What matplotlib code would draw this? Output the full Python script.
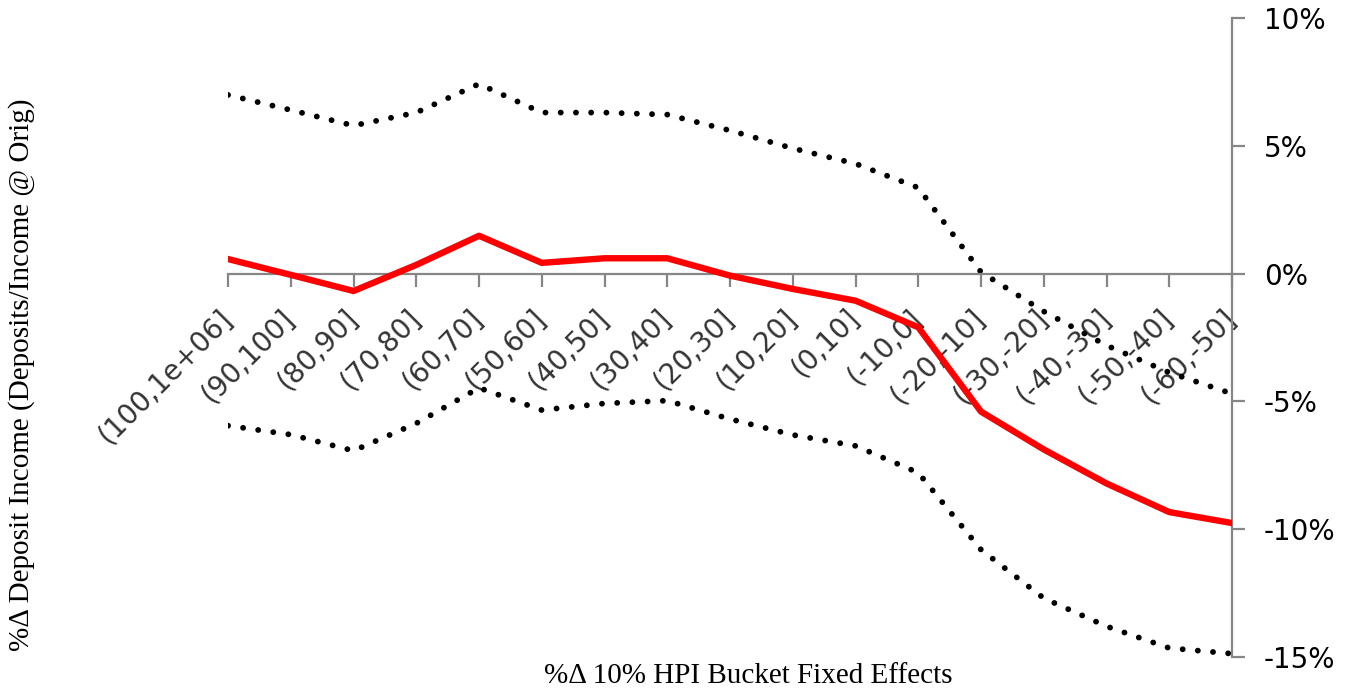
import matplotlib.pyplot as plt
from matplotlib.ticker import FuncFormatter

# HPI buckets (x axis), from high to low
buckets = ['(100,1e+06]', '(90,100]', '(80,90]', '(70,80]', '(60,70]', '(50,60]',
           '(40,50]', '(30,40]', '(20,30]', '(10,20]', '(0,10]', '(-10,0]',
           '(-20,-10]', '(-30,-20]', '(-40,-30]', '(-50,-40]', '(-60,-50]']

# point estimate and confidence band, in %
estimate = [0.57, -0.05, -0.68, 0.34, 1.48, 0.42, 0.6, 0.6, -0.08, -0.6,
            -1.06, -2.1, -5.4, -6.88, -8.21, -9.33, -9.76]
upper = [6.99, 6.4, 5.79, 6.3, 7.42, 6.3, 6.3, 6.22, 5.6, 4.9,
         4.3, 3.36, 0.06, -1.48, -2.81, -3.87, -4.7]
lower = [-5.95, -6.3, -6.93, -5.86, -4.47, -5.34, -5.08, -4.97, -5.69, -6.31,
         -6.74, -7.79, -10.8, -12.7, -13.8, -14.65, -14.87]

yticks = [10, 5, 0, -5, -10, -15]

x = list(range(len(buckets)))
grey = '#868686'

fig = plt.figure(figsize=(13.48, 6.89), dpi=100)
ax = fig.add_axes([228 / 1348, 1 - 657 / 689, 1004 / 1348, 639 / 689])

dots = (0, (0.01, 2.6))
ax.plot(x, upper, color='black', lw=4.2, linestyle=dots, dash_capstyle='round')
ax.plot(x, lower, color='black', lw=4.2, linestyle=dots, dash_capstyle='round')
ax.plot(x, estimate, color='#ff0000', lw=4.6, solid_joinstyle='round', zorder=3)

ax.set_xlim(0, len(buckets) - 1)
ax.set_ylim(-15, 10)

# spines: zero line as the category axis, value axis on the right
ax.spines['top'].set_visible(False)
ax.spines['left'].set_visible(False)
ax.spines['bottom'].set_position(('data', 0))
ax.spines['bottom'].set_color(grey)
ax.spines['bottom'].set_linewidth(1.6)
ax.spines['right'].set_color(grey)
ax.spines['right'].set_linewidth(1.6)

ax.set_xticks(x)
ax.set_xticklabels(buckets, rotation=45, ha='right', va='center',
                   rotation_mode='anchor', fontsize=20, color='#333333',
                   fontfamily='DejaVu Sans')
ax.tick_params(axis='x', direction='out', length=9, width=1.6, color=grey, pad=20)

ax.yaxis.tick_right()
ax.set_yticks(yticks)
ax.yaxis.set_major_formatter(FuncFormatter(lambda v, p: f'{v:.0f}%'))
ax.tick_params(axis='y', direction='out', length=9, width=1.6, color=grey,
               labelsize=20, pad=14)

fig.text(748 / 1348, 1 - 676 / 689, '%Δ 10% HPI Bucket Fixed Effects',
         ha='center', va='center', fontsize=21, family='Liberation Serif')
fig.text(22 / 1348, 1 - 375 / 689, '%Δ Deposit Income (Deposits/Income @ Orig)',
         ha='center', va='center', rotation=90, fontsize=21,
         family='Liberation Serif')

fig.savefig('out.png', dpi=100)
